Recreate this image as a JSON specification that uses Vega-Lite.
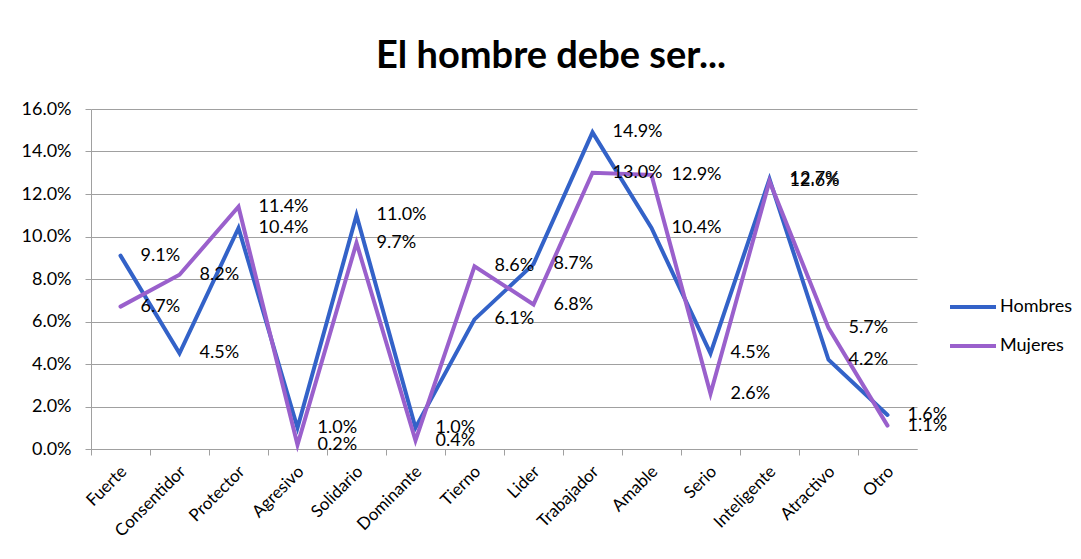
{
  "$schema": "https://vega.github.io/schema/vega-lite/v6.json",
  "width": 826,
  "height": 340,
  "autosize": "none",
  "padding": {"left": 91, "top": 109, "right": 164, "bottom": 110},
  "background": "white",
  "title": {
    "text": "El hombre debe ser...",
    "font": "Lato",
    "fontSize": 38,
    "fontWeight": "bold",
    "color": "black",
    "anchor": "middle",
    "dx": 47,
    "baseline": "bottom",
    "offset": -14
  },
  "config": {
    "view": {"stroke": null},
    "font": "Lato"
  },
  "data": {
    "values": [
      {"cat": "Fuerte", "serie": "Hombres", "v": 0.091},
      {"cat": "Consentidor", "serie": "Hombres", "v": 0.045},
      {"cat": "Protector", "serie": "Hombres", "v": 0.104},
      {"cat": "Agresivo", "serie": "Hombres", "v": 0.010},
      {"cat": "Solidario", "serie": "Hombres", "v": 0.110},
      {"cat": "Dominante", "serie": "Hombres", "v": 0.010},
      {"cat": "Tierno", "serie": "Hombres", "v": 0.061},
      {"cat": "Lider", "serie": "Hombres", "v": 0.087},
      {"cat": "Trabajador", "serie": "Hombres", "v": 0.149},
      {"cat": "Amable", "serie": "Hombres", "v": 0.104},
      {"cat": "Serio", "serie": "Hombres", "v": 0.045},
      {"cat": "Inteligente", "serie": "Hombres", "v": 0.127},
      {"cat": "Atractivo", "serie": "Hombres", "v": 0.042},
      {"cat": "Otro", "serie": "Hombres", "v": 0.016},
      {"cat": "Fuerte", "serie": "Mujeres", "v": 0.067},
      {"cat": "Consentidor", "serie": "Mujeres", "v": 0.082},
      {"cat": "Protector", "serie": "Mujeres", "v": 0.114},
      {"cat": "Agresivo", "serie": "Mujeres", "v": 0.002},
      {"cat": "Solidario", "serie": "Mujeres", "v": 0.097},
      {"cat": "Dominante", "serie": "Mujeres", "v": 0.004},
      {"cat": "Tierno", "serie": "Mujeres", "v": 0.086},
      {"cat": "Lider", "serie": "Mujeres", "v": 0.068},
      {"cat": "Trabajador", "serie": "Mujeres", "v": 0.130},
      {"cat": "Amable", "serie": "Mujeres", "v": 0.129},
      {"cat": "Serio", "serie": "Mujeres", "v": 0.026},
      {"cat": "Inteligente", "serie": "Mujeres", "v": 0.126},
      {"cat": "Atractivo", "serie": "Mujeres", "v": 0.057},
      {"cat": "Otro", "serie": "Mujeres", "v": 0.011}
    ]
  },
  "encoding": {
    "x": {
      "field": "cat",
      "type": "nominal",
      "sort": null,
      "scale": {"type": "band", "paddingInner": 0, "paddingOuter": 0},
      "axis": {
        "title": null,
        "bandPosition": 0,
        "labelOffset": -2,
        "labelAngle": -45,
        "labelFont": "Lato",
        "labelFontSize": 17,
        "labelColor": "black",
        "labelPadding": 8,
        "domainColor": "#a0a0a0",
        "tickColor": "#a0a0a0",
        "tickSize": 6,
        "grid": false
      }
    },
    "y": {
      "field": "v",
      "type": "quantitative",
      "scale": {"domain": [0, 0.16], "nice": false},
      "axis": {
        "title": null,
        "format": ".1%",
        "values": [0, 0.02, 0.04, 0.06, 0.08, 0.1, 0.12, 0.14, 0.16],
        "labelFont": "Lato",
        "labelFontSize": 18,
        "labelColor": "black",
        "labelPadding": 14,
        "domainColor": "#a0a0a0",
        "tickColor": "#a0a0a0",
        "tickSize": 6,
        "gridColor": "#a0a0a0",
        "gridWidth": 1
      }
    }
  },
  "layer": [
    {
      "mark": {"type": "line", "strokeWidth": 4, "strokeCap": "round", "strokeJoin": "miter"},
      "encoding": {
        "color": {
          "field": "serie",
          "type": "nominal",
          "scale": {"domain": ["Hombres", "Mujeres"], "range": ["#3362c8", "#9a60cc"]},
          "legend": {
            "title": null,
            "orient": "none",
            "legendX": 857,
            "legendY": 173,
            "symbolType": "stroke",
            "symbolSize": 2116,
            "symbolStrokeWidth": 4,
            "labelFont": "Lato",
            "labelFontSize": 18,
            "labelColor": "black",
            "labelOffset": 2,
            "rowPadding": 5
          }
        }
      }
    },
    {
      "mark": {"type": "text", "align": "left", "baseline": "middle", "dx": 20, "fontSize": 18, "font": "Lato", "color": "black"},
      "encoding": {
        "text": {"field": "v", "type": "quantitative", "format": ".1%"},
        "detail": {"field": "serie"}
      }
    }
  ]
}
